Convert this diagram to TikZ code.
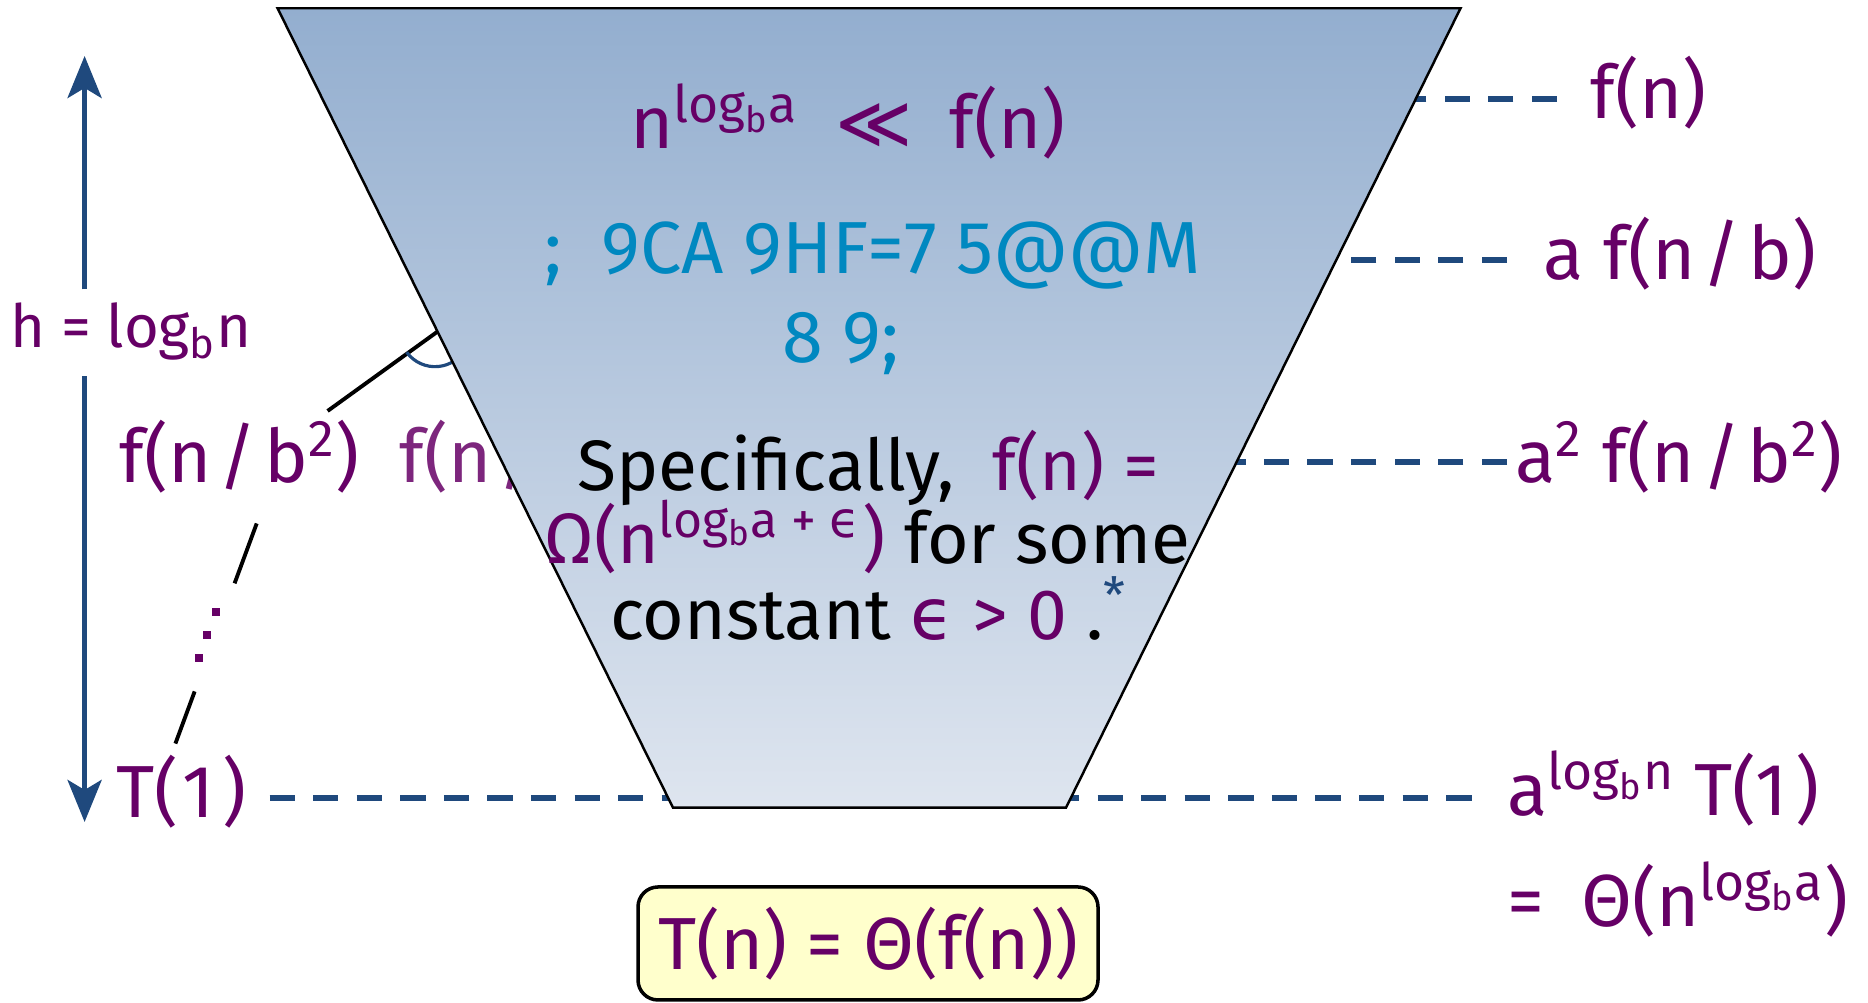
\documentclass[tikz,border=0pt]{standalone}
\usepackage{fontspec}
\setmainfont{Fira Sans}
\newfontfamily\symfont{DejaVu Sans}
\usetikzlibrary{positioning, calc, arrows.meta}
\definecolor{termpurple}{RGB}{102,0,102}
\definecolor{levelblue}{RGB}{31,73,125}
\definecolor{garblecyan}{RGB}{0,136,192}
\definecolor{trapTop}{RGB}{147,174,207}
\definecolor{trapBot}{RGB}{222,229,239}
\definecolor{boxyellow}{RGB}{255,255,204}
\newcommand{\lgb}[1]{log\textsubscript{b}#1}
\newcommand{\termsize}{\fontsize{21}{21.2}\selectfont}
\newcommand{\bodysize}{\fontsize{20.3}{21}\selectfont}
\newcommand{\eps}{{\symfont ϵ}}
\newcommand{\ovr}{\hspace{0.1em}/\hspace{0.1em}}

\begin{document}
\begin{tikzpicture}[
        term/.style={font=\termsize, text=termpurple, inner sep=0pt, anchor=base west},
        level/.style={draw=levelblue, line width=1.7pt, dash pattern=on 7.2pt off 5.2pt},
        treeedge/.style={draw=black, line width=1.1pt},
        harrow/.style={draw=levelblue, line width=1.5pt, -{Stealth[length=0.42cm, width=0.34cm, inset=0.1cm]}},
        trap/.style={draw=black, line width=0.7pt, top color=trapTop, bottom color=trapBot},
        body/.style={font=\bodysize, inner sep=0pt, anchor=base},
        answer/.style={draw=black, line width=1pt, fill=boxyellow, rounded corners=0.2cm, minimum width=4.6cm, minimum height=1.13cm, font=\termsize, text=termpurple},
    ]
    \useasboundingbox (0,0) rectangle (18.68,10.03);

    % ===== Hidden part of the tree =====
    \node[term, text=termpurple!85] (leafB) at (3.99,5.205) {f(n\ovr b\textsuperscript{2})};
    \coordinate (rootL) at (4.884,7.081);
    \coordinate (kneeL) at (4.35,6.713);
    \coordinate (edgeL) at (3.276,5.92);
    \draw[treeedge] (rootL) -- (edgeL);
    \draw[levelblue, line width=0.9pt] ($(kneeL)+(216:0.35)$) arc[start angle=216, end angle=330, radius=0.35];

    % ===== Right: cost per level =====
    \node[term] (lvl0) at (15.90,8.84) {f(n)};
    \node[term] (lvl1) at (15.43,7.23) {a f(n\ovr b)};
    \node[term] (lvl2) at (15.15,5.205) {a\textsuperscript{2} f(n\ovr b\textsuperscript{2})};
    \node[term] (lvl4) at (15.07,1.87) {a\textsuperscript{\lgb{n}} T(1\kern0.12em)};
    \node[term] (total) at (15.07,0.76) {=\enspace Θ(n\textsuperscript{\lgb{a}})};

    \foreach \lv/\gap in {lvl0/0.33, lvl1/0.36, lvl2/0.08} {
        \draw[level] ($(\lv.base west)+(-\gap,0.2)$) -- ++(-4,0);
    }

    % ===== Left: leaves and height =====
    \node[term] (leafA) at (1.19,5.205) {f(n\ovr b\textsuperscript{2})};
    \node[term] (T1) at (1.156,1.85) {T(\kern0.05em1\kern0.12em)};
    \coordinate (rowT) at ($(T1.base east)+(0.22,0.2)$);
    \draw[level, shorten >=0.30cm] (rowT) -- (rowT -| lvl4.west);

    \coordinate (chainTop) at (2.567,4.795);
    \coordinate (chainBot) at (1.754,2.594);
    \draw[treeedge] (chainTop) -- ($(chainTop)!0.272!(chainBot)$);
    \draw[treeedge] ($(chainTop)!0.763!(chainBot)$) -- (chainBot);
    \foreach \x/\y in {2.156/3.914, 2.067/3.683, 1.99/3.45} {
        \fill[termpurple] (\x-0.04,\y-0.04) rectangle ++(0.08,0.08);
    }

    \node[term, font=\fontsize{17}{17}\selectfont] (height) at (0.095,6.55) {h = \lgb{n}};
    \coordinate (htop) at (0.846,9.47);
    \coordinate (hbot) at (0.846,1.81);
    \draw[harrow] ($(height.base -| htop)+(0,0.585)$) -- (htop);
    \draw[harrow] ($(height.base -| hbot)+(0,-0.285)$) -- (hbot);

    % ===== Funnel =====
    \coordinate (trapTL) at (2.776,9.947);
    \coordinate (trapTR) at (14.605,9.947);
    \coordinate (trapBR) at (10.66,1.953);
    \coordinate (trapBL) at (6.73,1.953);
    \shadedraw[trap] (trapTL) -- (trapTR) -- (trapBR) -- (trapBL) -- cycle;

    \node[font=\termsize, text=termpurple, anchor=base] (ratio) at (8.48,8.54)
        {n\textsuperscript{\lgb{a}}\enspace{\symfont ≪}\enspace f(n)};
    \node[font=\termsize, text=garblecyan, anchor=base] (garbA) at (8.73,7.29) {;\ \ 9CA 9HF=7 5@@M};
    \node[font=\termsize, text=garblecyan, anchor=base] (garbB) at (8.41,6.40) {8 9;};

    \node[body] (condA) at (8.68,5.12) {Specifically,\ \ \textcolor{termpurple}{f(n) =}};
    \node[body] (condB) at (8.675,4.395) {\textcolor{termpurple}{Ω(n\textsuperscript{\lgb{a} + \eps})} for some};
    \node[body] (condC) at (8.685,3.63) {constant \textcolor{termpurple}{\eps{} > 0} .\textcolor{levelblue}{\textsuperscript{*}}};

    % ===== Result =====
    \node[answer] (result) at (8.68,0.595) {T(n) = Θ(f(n))};

\end{tikzpicture}
\end{document}
